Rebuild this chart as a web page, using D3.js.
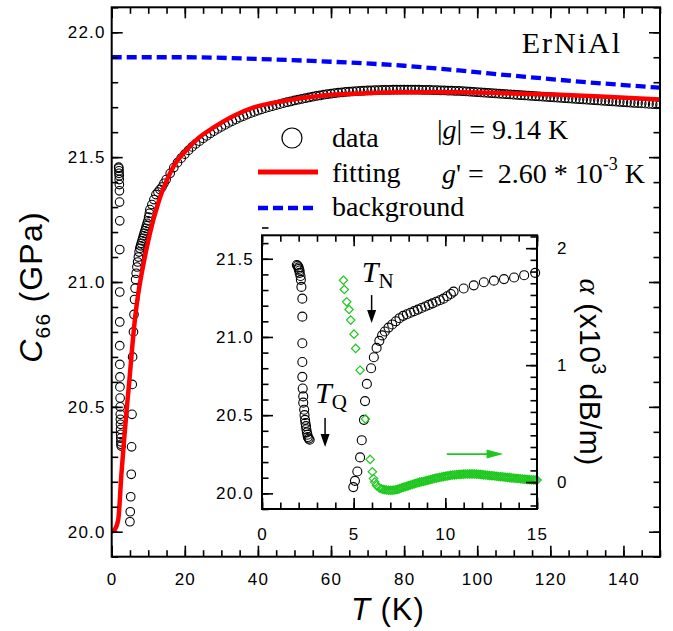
<!DOCTYPE html>
<html>
<head>
<meta charset="utf-8">
<script src="https://cdn.jsdelivr.net/npm/d3@7"></script>
<style>
body { margin: 0; background: #fff; }
svg { display: block; }
text { white-space: pre; }
</style>
</head>
<body>
<div id="chart-area"></div>
<script>
// C66 data points [T (K), C66 (GPa)]
var c66Data = [
	// below T_Q
	[1.9,21.46],[1.95,21.455],[2.0,21.445],[2.0,21.435],[2.05,21.425],[2.05,21.41],[2.1,21.39],[2.12,21.365],
	[2.15,21.32],[2.2,21.245],[2.2,21.13],[2.2,20.96],[2.2,20.84],[2.2,20.745],[2.22,20.67],[2.25,20.62],
	[2.25,20.58],[2.3,20.535],[2.32,20.5],[2.35,20.47],[2.37,20.45],[2.4,20.43],[2.42,20.41],[2.45,20.39],
	[2.48,20.375],[2.5,20.36],[2.55,20.35],[2.6,20.343],
	// around T_N
	[4.98,20.04],[5.07,20.08],[5.2,20.14],[5.35,20.23],[5.44,20.34],[5.56,20.47],[5.62,20.59],[5.72,20.7],
	[5.95,20.8],[6.1,20.87],[6.25,20.93],[6.4,20.975],[6.55,21.01],[6.7,21.035],[6.9,21.06],
	[7.1,21.08],[7.3,21.1],[7.5,21.12],[7.7,21.135],[7.9,21.145],[8.1,21.155],[8.3,21.165],[8.5,21.175],
	[8.7,21.185],[8.9,21.195],[9.1,21.205],[9.3,21.215],[9.5,21.225],[9.7,21.235],[9.9,21.245],[10.1,21.26],
	[10.3,21.275],[10.45,21.29],[11.0,21.31],[11.55,21.33],[12.1,21.35],[12.65,21.36],[13.2,21.37],
	[13.75,21.38],[14.3,21.395],[14.9,21.41],
	// paramagnetic region
	[16,21.435],[17,21.458],[18,21.478],[19,21.496],[20,21.512],[21,21.527],[22,21.541],[23,21.553],
	[24,21.564],[25,21.575],[26,21.585],[27,21.595],[28,21.604],[29,21.613],[30,21.621],[31,21.629],
	[32,21.637],[33,21.644],[34,21.651],[35,21.658],[36,21.664],[37,21.67],[38,21.676],[39,21.681],
	[40,21.686],[41,21.691],[42,21.696],[43,21.7],[44,21.704],[45,21.708],[46,21.712],[47,21.716],
	[48,21.72],[49,21.723],[50,21.727],[51,21.73],[52,21.733],[53,21.736],[54,21.739],[55,21.742],
	[56,21.745],[57,21.747],[58,21.75],[59,21.752],[60,21.754],[61,21.756],[62,21.758],[63,21.759],
	[64,21.761],[65,21.762],[66,21.763],[67,21.764],[68,21.765],[69,21.766],[70,21.767],[71,21.767],
	[72,21.768],[73,21.768],[74,21.769],[75,21.769],[76,21.769],[77,21.77],[78,21.77],[79,21.77],
	[80,21.77],[81,21.77],[82,21.77],[83,21.77],[84,21.77],[85,21.769],[86,21.769],[87,21.769],
	[88,21.768],[89,21.768],[90,21.767],[91,21.767],[92,21.766],[93,21.766],[94,21.765],[95,21.765],
	[96,21.764],[97,21.763],[98,21.762],[99,21.761],[100,21.76],[101,21.759],[102,21.758],[103,21.757],
	[104,21.756],[105,21.755],[106,21.754],[107,21.753],[108,21.752],[109,21.751],[110,21.75],[111,21.749],
	[112,21.748],[113,21.747],[114,21.746],[115,21.745],[116,21.744],[117,21.743],[118,21.742],[119,21.741],
	[120,21.74],[121,21.739],[122,21.738],[123,21.737],[124,21.736],[125,21.735],[126,21.734],[127,21.733],
	[128,21.732],[129,21.731],[130,21.73],[131,21.729],[132,21.728],[133,21.727],[134,21.726],[135,21.725],
	[136,21.724],[137,21.723],[138,21.722],[139,21.721],[140,21.72],[141,21.719],[142,21.718],[143,21.717],
	[144,21.716],[145,21.715],[146,21.714],[147,21.713],[148,21.712],[149,21.711],[150,21.71]
];

// fitting curve [T, C66]
var fitData = [
	[0,20.0],[0.9,20.01],[1.8,20.05],[2.7,20.24],[3.4,20.37],[4.1,20.49],[4.8,20.6],[5.5,20.72],
	[6.2,20.83],[6.8,20.905],[7.5,20.975],[8.6,21.065],[10,21.165],[11.4,21.25],[12.3,21.295],[13.5,21.35],
	[15,21.405],[17,21.465],[20.5,21.53],[24,21.58],[27.8,21.618],[33.3,21.665],[38.7,21.698],[47,21.725],
	[55,21.742],[60.6,21.75],[68,21.755],[80,21.76],[95,21.76],[110,21.755],[122.6,21.75],[135,21.742],
	[150,21.731]
];

// background curve [T, C66]
var backgroundData = [
	[0,21.9],[20,21.9],[40,21.893],[60,21.882],[80,21.866],[95,21.847],[110,21.826],[130,21.8],[150,21.778]
];

// ultrasonic attenuation [T, alpha (x10^3 dB/m)]
var alphaData = [
	[4.44,1.726],[4.49,1.647],[4.62,1.541],[4.75,1.476],[4.84,1.385],[5.02,1.265],[5.11,1.143],[5.35,0.957],
	[5.64,0.54],[5.9,0.194],[6.02,0.088],[6.08,0.03],[6.15,0.0],[6.25,-0.03],
	[6.4,-0.05],[6.5,-0.057],[6.6,-0.062],[6.7,-0.066],[6.8,-0.068],[6.9,-0.07],[7.0,-0.07],[7.1,-0.07],
	[7.2,-0.068],[7.3,-0.065],[7.4,-0.062],[7.5,-0.056],[7.6,-0.05],[7.7,-0.045],[7.8,-0.04],[7.9,-0.035],
	[8.0,-0.03],[8.1,-0.025],[8.2,-0.02],[8.3,-0.015],[8.4,-0.01],[8.5,-0.005],[8.6,0.0],[8.7,0.003],
	[8.8,0.005],[8.9,0.01],[9.0,0.014],[9.1,0.018],[9.2,0.022],[9.3,0.026],[9.4,0.03],[9.5,0.034],
	[9.6,0.037],[9.7,0.041],[9.8,0.044],[9.9,0.047],[10.0,0.05],[10.1,0.053],[10.2,0.055],[10.3,0.058],
	[10.4,0.06],[10.5,0.062],[10.6,0.063],[10.7,0.065],[10.8,0.066],[10.9,0.067],[11.0,0.068],[11.1,0.069],
	[11.2,0.069],[11.3,0.07],[11.4,0.07],[11.5,0.07],[11.6,0.069],[11.7,0.068],[11.8,0.067],[11.9,0.066],
	[12.0,0.064],[12.1,0.062],[12.2,0.06],[12.3,0.058],[12.4,0.057],[12.5,0.055],[12.6,0.054],[12.7,0.052],
	[12.8,0.05],[12.9,0.048],[13.0,0.046],[13.1,0.045],[13.2,0.043],[13.3,0.041],[13.4,0.04],[13.5,0.038],
	[13.6,0.036],[13.7,0.035],[13.8,0.033],[13.9,0.031],[14.0,0.03],[14.1,0.028],[14.2,0.027],[14.3,0.025],
	[14.4,0.024],[14.5,0.022],[14.6,0.021],[14.7,0.02],[14.8,0.019],[14.9,0.018],[15.0,0.017]
];

// ticks
var mainXMajor = [0,20,40,60,80,100,120,140];
var mainXMinor = d3.range(0, 151, 5);
var mainYMajor = [20.0,20.5,21.0,21.5,22.0];
var mainYMinor = d3.range(19.9, 22.15, 0.1);
var insetXMajor = [0,5,10,15];
var insetXMinor = d3.range(0, 16, 1);
var insetYMajor = [20.0,20.5,21.0,21.5];
var insetYMinor = d3.range(19.9, 21.7, 0.1);
var alphaMajor = [0,1,2];
var alphaMinor = d3.range(-0.2, 2.15, 0.1);

var sansFont = "'Liberation Sans', Arial, sans-serif";
var serifFont = "'Liberation Serif', 'Times New Roman', serif";

var svg = d3.select("#chart-area")
	.append("svg")
	.attr("width", 673)
	.attr("height", 631);

var mainBox = { left: 111.7, right: 660, top: 7.3, bottom: 556.7 };
var insetBox = { left: 262, right: 537, top: 235.3, bottom: 509 };

// Scales
var x = d3.scaleLinear().domain([0, 150]).range([mainBox.left, mainBox.right]);
var y = d3.scaleLinear().domain([19.9, 22.1]).range([mainBox.bottom, mainBox.top]);
var ix = d3.scaleLinear().domain([0, 15]).range([insetBox.left, insetBox.right]);
var iy = d3.scaleLinear().domain([19.9, 21.65]).range([insetBox.bottom, insetBox.top]);
var ia = d3.scaleLinear().domain([-0.23, 2.11]).range([insetBox.bottom, insetBox.top]);

svg.append("clipPath").attr("id", "main-clip")
	.append("rect")
	.attr("x", mainBox.left).attr("y", mainBox.top)
	.attr("width", mainBox.right - mainBox.left)
	.attr("height", mainBox.bottom - mainBox.top);

function drawTicks(axisGen, scale, pos, majors, minors, fmt, pad) {
	var horizontal = (axisGen === d3.axisBottom || axisGen === d3.axisTop);
	var tr = horizontal ? "translate(0," + pos + ")" : "translate(" + pos + ",0)";
	var minorG = svg.append("g")
		.attr("transform", tr)
		.call(axisGen(scale).tickValues(minors).tickSizeInner(-6.5).tickSizeOuter(0).tickFormat(""));
	var majorG = svg.append("g")
		.attr("transform", tr)
		.call(axisGen(scale).tickValues(majors).tickSizeInner(-11).tickSizeOuter(0)
			.tickPadding(pad || 0).tickFormat(fmt ? fmt : ""));
	[minorG, majorG].forEach(function (g) {
		g.select(".domain").remove();
		g.selectAll("line").attr("stroke", "#000").attr("stroke-width", 1.6);
	});
	majorG.attr("font-family", sansFont).attr("font-size", 17);
	majorG.selectAll("text").attr("fill", "#000").style("letter-spacing", "1.2px");
}

// Main plot data
var plots = svg.append("g").attr("clip-path", "url(#main-clip)");

var mainLine = d3.line()
	.x(function (d) { return x(d[0]); })
	.y(function (d) { return y(d[1]); })
	.curve(d3.curveMonotoneX);

plots.append("path")
	.datum(backgroundData)
	.attr("d", mainLine)
	.attr("fill", "none")
	.attr("stroke", "#0000ff")
	.attr("stroke-width", 4.3)
	.attr("stroke-dasharray", "10,5");

plots.selectAll("circle")
	.data(c66Data)
	.enter()
	.append("circle")
	.attr("cx", function (d) { return x(d[0]); })
	.attr("cy", function (d) { return y(d[1]); })
	.attr("r", 4.3)
	.attr("fill", "none")
	.attr("stroke", "#000")
	.attr("stroke-width", 1.1);

plots.append("path")
	.datum(fitData)
	.attr("d", mainLine)
	.attr("fill", "none")
	.attr("stroke", "#ff0000")
	.attr("stroke-width", 4.5);

// Main frame & axes
svg.append("rect")
	.attr("x", mainBox.left).attr("y", mainBox.top)
	.attr("width", mainBox.right - mainBox.left)
	.attr("height", mainBox.bottom - mainBox.top)
	.attr("fill", "none").attr("stroke", "#000").attr("stroke-width", 2);

drawTicks(d3.axisBottom, x, mainBox.bottom, mainXMajor, mainXMinor, d3.format("d"), 16);
drawTicks(d3.axisTop, x, mainBox.top, mainXMajor, mainXMinor);
drawTicks(d3.axisLeft, y, mainBox.left, mainYMajor, mainYMinor, d3.format(".1f"), 6);
drawTicks(d3.axisRight, y, mainBox.right, mainYMajor, mainYMinor);

// X Label
var xLabel = svg.append("text")
	.attr("x", (mainBox.left + mainBox.right) / 2 + 2)
	.attr("y", 620)
	.attr("text-anchor", "middle")
	.attr("font-family", sansFont)
	.attr("font-size", 31)
	.style("letter-spacing", "1px");
xLabel.append("tspan").attr("font-style", "italic").text("T");
xLabel.append("tspan").text(" (K)");

// Y Label
var yLabel = svg.append("text")
	.attr("transform", "translate(42,287) rotate(-90)")
	.attr("text-anchor", "middle")
	.attr("font-family", sansFont)
	.attr("font-size", 32)
	.style("letter-spacing", "1.2px");
yLabel.append("tspan").attr("font-style", "italic").text("C");
yLabel.append("tspan").attr("font-size", 21).attr("dy", 8).text("66");
yLabel.append("tspan").attr("dy", -8).text(" (GPa)");

// Sample name
svg.append("text")
	.attr("x", 622)
	.attr("y", 53)
	.attr("text-anchor", "end")
	.attr("font-family", serifFont)
	.attr("font-size", 30)
	.style("letter-spacing", "2px")
	.text("ErNiAl");

// Legend
var legend = svg.append("g")
	.attr("class", "legend")
	.attr("font-family", serifFont)
	.attr("font-size", 28);

legend.append("circle")
	.attr("cx", 292).attr("cy", 138).attr("r", 10)
	.attr("fill", "none").attr("stroke", "#000").attr("stroke-width", 1.2);
legend.append("line")
	.attr("x1", 258).attr("x2", 318).attr("y1", 172).attr("y2", 172)
	.attr("stroke", "#ff0000").attr("stroke-width", 5);
legend.append("line")
	.attr("x1", 258).attr("x2", 318).attr("y1", 208).attr("y2", 208)
	.attr("stroke", "#0000ff").attr("stroke-width", 4.3).attr("stroke-dasharray", "10,5");

legend.append("text").attr("x", 332).attr("y", 147).text("data");
legend.append("text").attr("x", 332).attr("y", 182).text("fitting");
legend.append("text").attr("x", 332).attr("y", 216).text("background");

var gText = legend.append("text").attr("x", 437).attr("y", 139);
gText.append("tspan").text("|");
gText.append("tspan").attr("font-style", "italic").text("g");
gText.append("tspan").text("| = 9.14 K");

var gpText = legend.append("text").attr("x", 442).attr("y", 183);
gpText.append("tspan").attr("font-style", "italic").text("g");
gpText.append("tspan").text("' =  2.60 * 10");
gpText.append("tspan").attr("font-size", 18).attr("dy", -13).text("-3");
gpText.append("tspan").attr("dy", 13).text(" K");

// Inset
svg.append("rect")
	.attr("x", insetBox.left).attr("y", insetBox.top)
	.attr("width", insetBox.right - insetBox.left)
	.attr("height", insetBox.bottom - insetBox.top)
	.attr("fill", "#fff");

var inset = svg.append("g").attr("class", "inset");

inset.selectAll("circle")
	.data(c66Data.filter(function (d) { return d[0] <= 15; }))
	.enter()
	.append("circle")
	.attr("cx", function (d) { return ix(d[0]); })
	.attr("cy", function (d) { return iy(d[1]); })
	.attr("r", 4.5)
	.attr("fill", "none")
	.attr("stroke", "#000")
	.attr("stroke-width", 1.1);

var diamond = {
	draw: function (context, size) {
		var h = Math.sqrt(size) / 2;
		context.moveTo(0, -h);
		context.lineTo(h, 0);
		context.lineTo(0, h);
		context.lineTo(-h, 0);
		context.closePath();
	}
};

inset.selectAll("path.alpha")
	.data(alphaData)
	.enter()
	.append("path")
	.attr("class", "alpha")
	.attr("d", d3.symbol().type(diamond).size(70))
	.attr("transform", function (d) { return "translate(" + ix(d[0]) + "," + ia(d[1]) + ")"; })
	.attr("fill", "none")
	.attr("stroke", "#1ec81e")
	.attr("stroke-width", 1.2);

svg.append("rect")
	.attr("x", insetBox.left).attr("y", insetBox.top)
	.attr("width", insetBox.right - insetBox.left)
	.attr("height", insetBox.bottom - insetBox.top)
	.attr("fill", "none").attr("stroke", "#000").attr("stroke-width", 2);

drawTicks(d3.axisBottom, ix, insetBox.bottom, insetXMajor, insetXMinor, d3.format("d"), 19);
drawTicks(d3.axisTop, ix, insetBox.top, insetXMajor, insetXMinor);
drawTicks(d3.axisLeft, iy, insetBox.left, insetYMajor, insetYMinor, d3.format(".1f"), 8);
drawTicks(d3.axisRight, ia, insetBox.right, alphaMajor, alphaMinor, d3.format("d"), 20);

// alpha label
var aLabel = svg.append("text")
	.attr("transform", "translate(580,372) rotate(90)")
	.attr("text-anchor", "middle")
	.attr("font-family", sansFont)
	.attr("font-size", 30)
	.style("letter-spacing", "0.4px");
aLabel.append("tspan").attr("font-family", serifFont).attr("font-style", "italic").text("α");
aLabel.append("tspan").text(" (x10");
aLabel.append("tspan").attr("font-size", 20).attr("dy", -12).text("3");
aLabel.append("tspan").attr("dy", 12).text(" dB/m)");

// Arrows and transition labels
function downArrow(t, c1, c2) {
	var ax = ix(t), y1 = iy(c1), y2 = iy(c2);
	svg.append("line")
		.attr("x1", ax).attr("x2", ax).attr("y1", y1).attr("y2", y2 - 10)
		.attr("stroke", "#000").attr("stroke-width", 1.5);
	svg.append("path")
		.attr("d", "M" + (ax - 4.5) + "," + (y2 - 13) + "L" + (ax + 4.5) + "," + (y2 - 13) + "L" + ax + "," + y2 + "Z")
		.attr("fill", "#000");
}
downArrow(5.98, 21.268, 21.089);
downArrow(3.44, 20.482, 20.296);

function transitionLabel(t, c, sub) {
	var lbl = svg.append("text")
		.attr("x", ix(t))
		.attr("y", iy(c))
		.attr("font-family", serifFont)
		.attr("font-size", 30);
	lbl.append("tspan").attr("font-style", "italic").text("T");
	lbl.append("tspan").attr("font-size", 21).attr("dy", 6).text(sub);
}
transitionLabel(5.44, 21.351, "N");
transitionLabel(2.89, 20.578, "Q");

// green arrow pointing to the right axis
var gy = ia(0.24);
svg.append("line")
	.attr("x1", ix(10.08)).attr("x2", ix(12.3)).attr("y1", gy).attr("y2", gy)
	.attr("stroke", "#1ec81e").attr("stroke-width", 1.8);
svg.append("path")
	.attr("d", "M" + ix(12.25) + "," + (gy - 4.5) + "L" + ix(13.16) + "," + gy + "L" + ix(12.25) + "," + (gy + 4.5) + "Z")
	.attr("fill", "#1ec81e");
</script>
</body>
</html>
